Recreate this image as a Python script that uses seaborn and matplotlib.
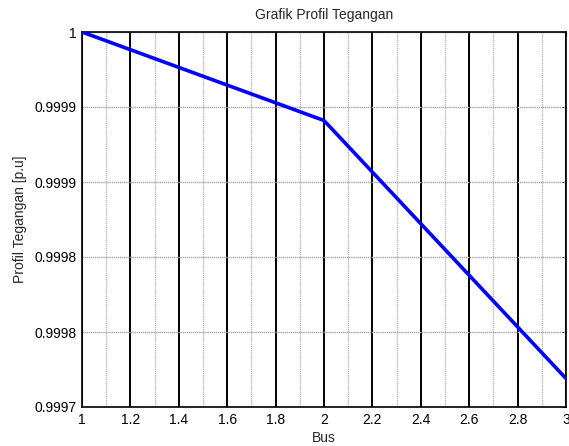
import matplotlib
matplotlib.use("Agg")
import matplotlib.pyplot as plt
import seaborn as sns
import pandas as pd
import numpy as np

bus = [1, 2, 3]
voltage = [1.0, 0.999941, 0.999769]
x_ticks = [1, 1.2, 1.4, 1.6, 1.8, 2, 2.2, 2.4, 2.6, 2.8, 3]
x_tick_labels = ["1", "1.2", "1.4", "1.6", "1.8", "2", "2.2", "2.4", "2.6", "2.8", "3"]
x_minor = [1.1, 1.3, 1.5, 1.7, 1.9, 2.1, 2.3, 2.5, 2.7, 2.9]
y_ticks = [0.99975, 0.9998, 0.99985, 0.9999, 0.99995, 1.0]
y_tick_labels = ["0.9997", "0.9998", "0.9998", "0.9999", "0.9999", "1"]

sns.set_style("white")
plt.rcParams["font.family"] = ["Liberation Sans", "DejaVu Sans"]

fig = plt.figure(figsize=(5.69, 4.46), dpi=100)
ax = fig.add_axes([82/569, 1-407/446, (566-82)/569, (407-32)/446])

df = pd.DataFrame({"Bus": bus, "V": voltage})

# grid lines
for xm in x_minor:
    ax.axvline(xm, color="#bdbdbd", lw=1.0, ls=(0, (1, 0.5)), zorder=1)
for xt in x_ticks:
    ax.axvline(xt, color="black", lw=1.4, zorder=1)
for yt in y_ticks:
    ax.axhline(yt, color="#a8a8a8", lw=1.0, ls=(0, (1, 0.5)), zorder=1)

sns.lineplot(data=df, x="Bus", y="V", color=(0, 0, 1), lw=2.6, ax=ax, zorder=3)

ax.set_xlim(1, 3)
ax.set_ylim(0.99975, 1.0)
ax.set_xticks(x_ticks)
ax.set_xticklabels(x_tick_labels)
ax.set_yticks(y_ticks)
ax.set_yticklabels(y_tick_labels)
ax.tick_params(direction="in", length=3, width=0.8, labelsize=10, top=True, right=True,
               colors="black", pad=4)
for s in ax.spines.values():
    s.set_color("black")
    s.set_linewidth(1.2)
    s.set_visible(True)

ax.set_xlabel("Bus", fontsize=10, labelpad=3)
ax.set_ylabel("Profil Tegangan [p.u]", fontsize=10, labelpad=5)
ax.set_title("Grafik Profil Tegangan", fontsize=10, pad=9)

fig.savefig("out.png", dpi=100)
